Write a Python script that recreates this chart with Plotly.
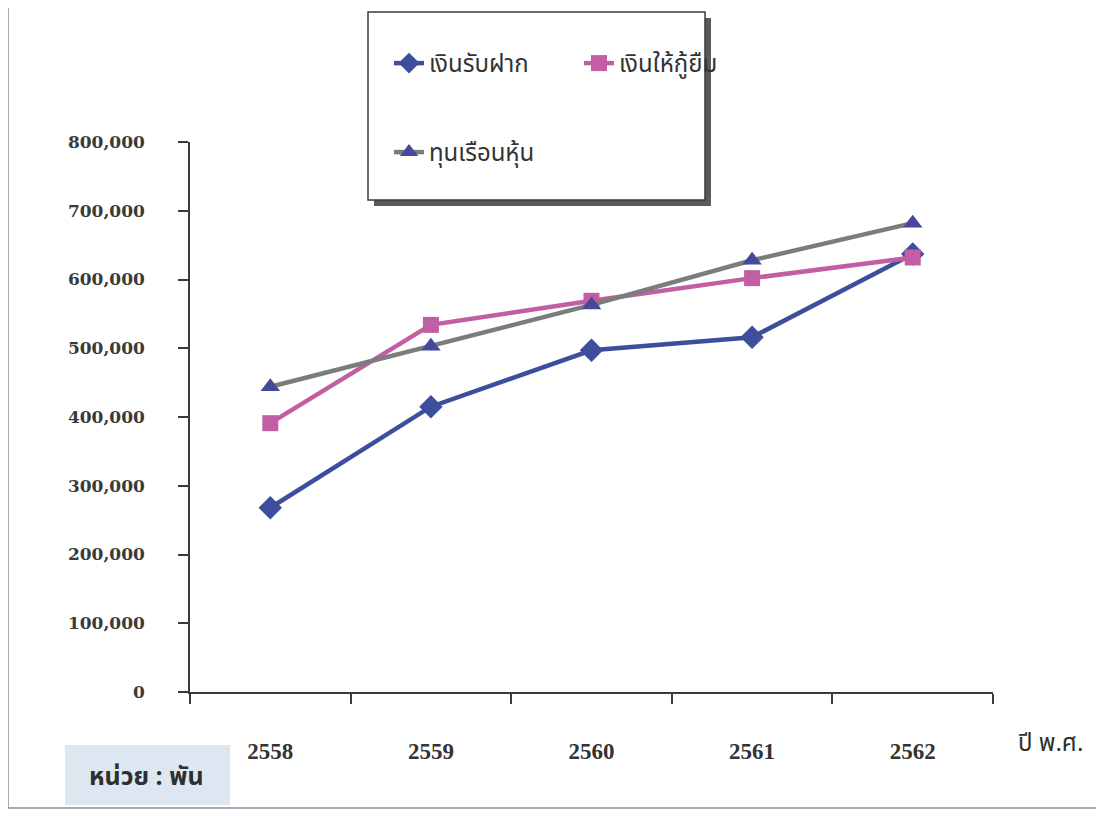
import plotly.graph_objects as go

years = ["2558", "2559", "2560", "2561", "2562"]
deposits = [268000, 415000, 497000, 516000, 637000]
loans = [391000, 534000, 569000, 602000, 632000]
shares = [444000, 503000, 563000, 628000, 682000]
series_names = ["เงินรับฝาก", "เงินให้กู้ยืม", "ทุนเรือนหุ้น"]
y_ticks = [0, 100000, 200000, 300000, 400000, 500000, 600000, 700000, 800000]
y_tick_text = ["0", "100,000", "200,000", "300,000", "400,000", "500,000", "600,000", "700,000", "800,000"]
unit_text = "หน่วย : พัน"
x_title = "ปี พ.ศ."

THAI = "Noto Sans Thai, Noto Serif Thai, Loma, Garuda, Norasi, Tlwg Typo, Sarabun, DejaVu Sans, sans-serif"
SERIF = "Liberation Serif, Times New Roman, serif"
YFONT = "DejaVu Serif, Liberation Serif, serif"

OFF = 8  # page body offset
W, H = 1104 - OFF, 832 - OFF
# plot area in window pixel coordinates
L, R, T, B = 190, 993, 142, 692


def px(x):
    return (x - L) / (R - L)


def py(y):
    return (B - y) / (B - T)


fig = go.Figure()
fig.add_trace(go.Scatter(
    x=years, y=deposits, name=series_names[0], mode="lines+markers",
    line=dict(color="#3d4f9c", width=4.5),
    marker=dict(symbol="diamond", size=18, color="#3d4f9c"),
    legend="legend",
))
fig.add_trace(go.Scatter(
    x=years, y=loans, name=series_names[1], mode="lines+markers",
    line=dict(color="#c25ea4", width=4.5),
    marker=dict(symbol="square", size=16, color="#c25ea4"),
    legend="legend",
))
fig.add_trace(go.Scatter(
    x=years, y=shares, name=series_names[2], mode="lines+markers",
    line=dict(color="#7b7d7b", width=4.5),
    marker=dict(symbol="triangle-up", size=17, color="#46489a"),
    legend="legend2",
))

shapes = [
    # outer frame
    dict(type="rect", xref="paper", yref="paper",
         x0=px(8), x1=px(1100), y0=py(808), y1=py(4),
         line=dict(color="#8a8f96", width=1.5), fillcolor="rgba(0,0,0,0)", layer="below"),
    # legend shadow
    dict(type="rect", xref="paper", yref="paper",
         x0=px(374), x1=px(711), y0=py(206), y1=py(18),
         line=dict(width=0), fillcolor="#5a5a5a", layer="below"),
    # legend box
    dict(type="rect", xref="paper", yref="paper",
         x0=px(368), x1=px(705), y0=py(200), y1=py(12),
         line=dict(color="#3a3a3a", width=1.5), fillcolor="white", layer="below"),
    # unit box
    dict(type="rect", xref="paper", yref="paper",
         x0=px(65), x1=px(230), y0=py(805), y1=py(745),
         line=dict(width=0), fillcolor="#dde7f1", layer="below"),
]

annotations = [
    dict(text=unit_text, xref="paper", yref="paper", x=px(146), y=py(777),
         xanchor="center", yanchor="middle", showarrow=False,
         font=dict(family=THAI, size=25, color="#2f2f2f", weight="bold")),
    dict(text=x_title, xref="paper", yref="paper", x=px(1050), y=py(744),
         xanchor="center", yanchor="middle", showarrow=False,
         font=dict(family=THAI, size=24, color="#2f2f2f")),
]

fig.update_layout(
    width=W, height=H,
    margin=dict(l=L - OFF, r=W - (R - OFF), t=T - OFF, b=H - (B - OFF)),
    paper_bgcolor="white", plot_bgcolor="white",
    showlegend=True,
    legend=dict(
        orientation="h", x=px(389), y=py(41), xanchor="left", yanchor="top",
        bgcolor="rgba(0,0,0,0)", entrywidth=145, entrywidthmode="pixels",
        font=dict(family=THAI, size=24, color="#333333"),
        itemclick=False, itemdoubleclick=False,
    ),
    legend2=dict(
        orientation="h", x=px(389), y=py(130), xanchor="left", yanchor="top",
        bgcolor="rgba(0,0,0,0)",
        font=dict(family=THAI, size=24, color="#333333"),
        itemclick=False, itemdoubleclick=False,
    ),
    xaxis=dict(
        type="category", tickson="boundaries", showline=True,
        linecolor="#3a3a3a", linewidth=1.5, ticks="outside", ticklen=10,
        tickcolor="#3a3a3a", tickwidth=1.5, showgrid=False, zeroline=False,
        ticklabelstandoff=38,
        tickfont=dict(family=SERIF, size=23, color="#333333", weight="bold"),
        range=[-0.5, 4.5], fixedrange=True,
    ),
    yaxis=dict(
        range=[0, 800000], tickvals=y_ticks, ticktext=y_tick_text,
        showline=True, linecolor="#3a3a3a", linewidth=1.5, ticks="outside",
        ticklen=10, tickcolor="#3a3a3a", tickwidth=1.5, showgrid=False,
        zeroline=False, ticklabelstandoff=30,
        tickfont=dict(family=YFONT, size=17, color="#3a3a3a", weight="bold"),
        fixedrange=True,
    ),
    shapes=shapes,
    annotations=annotations,
)

fig.write_html("out.html")
